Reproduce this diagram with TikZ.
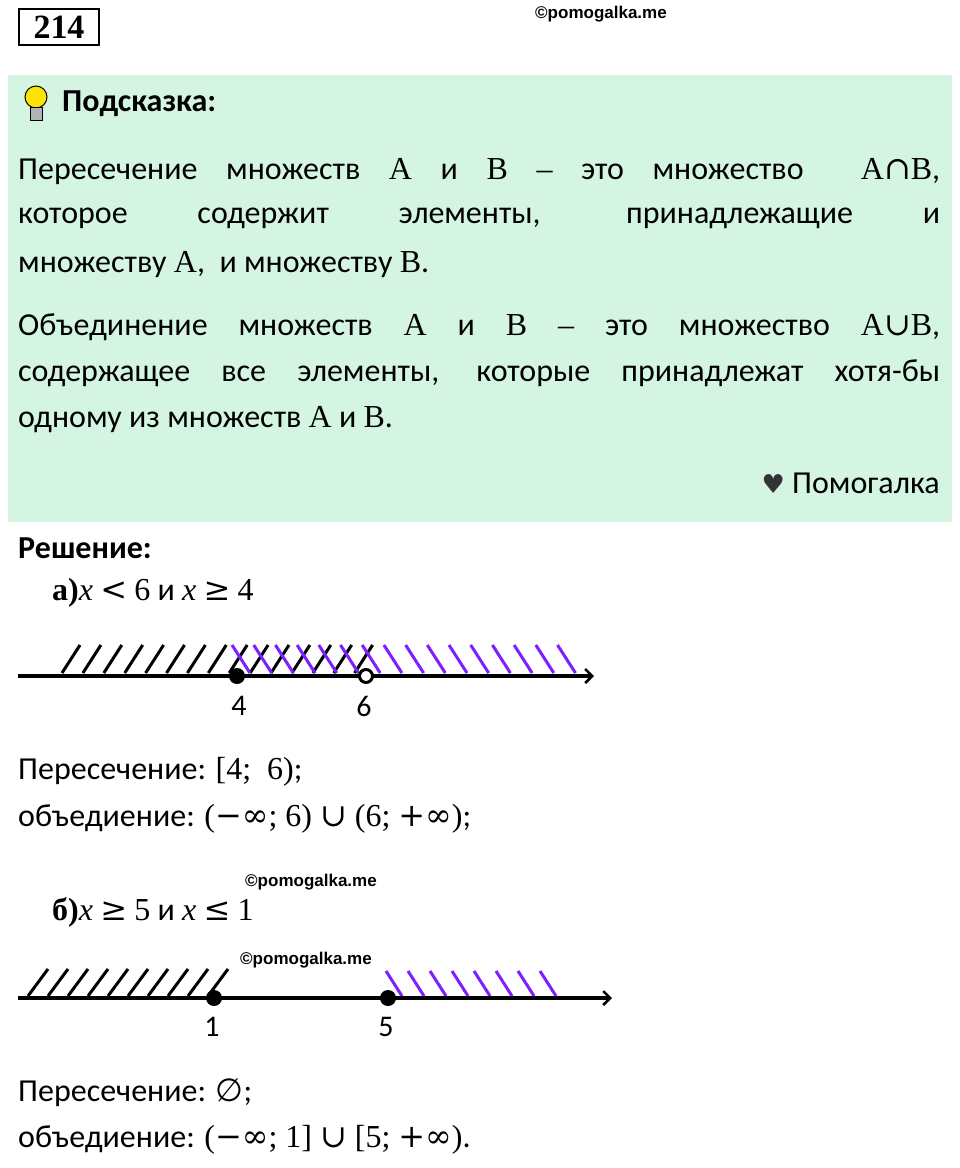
\documentclass[tikz,border=0pt]{standalone}
\usepackage{fontspec}
\usetikzlibrary{arrows.meta}
\setmainfont{Carlito}
\newfontfamily\serifm{Liberation Serif}
\newfontfamily\dsr{DejaVu Serif}
\newfontfamily\djv{DejaVu Sans}
\newfontfamily\wm{Liberation Sans}
\newcommand{\sm}[1]{{\serifm #1}}
\newcommand{\ds}[1]{{\dsr #1}}
\definecolor{mint}{HTML}{D5F5E3}
\definecolor{purp}{HTML}{7F1FFF}
\begin{document}
\begin{tikzpicture}[x=1pt,y=-1pt,
  txt/.style={anchor=west,inner sep=0,font=\fontsize{32}{38}\selectfont},
  btxt/.style={txt,font=\fontsize{32}{38}\selectfont\bfseries},
  wmark/.style={anchor=west,inner sep=0,font=\wm\bfseries\fontsize{17}{20}\selectfont},
  axis/.style={line width=3.5pt,-{Straight Barb[length=7pt,width=14pt,line width=2.5pt]}},
  hb/.style={line width=3pt},
  hp/.style={line width=3pt,purp},
  dot/.style={circle,fill=black,inner sep=0,minimum size=16pt},
  odot/.style={circle,draw=black,line width=3pt,fill=white,inner sep=0,minimum size=13pt},
  lbl/.style={inner sep=0,font=\fontsize{30}{36}\selectfont}]
\useasboundingbox (0,0) rectangle (960,1168);
\node[draw,line width=2.5pt,inner sep=3pt,minimum width=80pt,minimum height=36pt,font=\serifm\bfseries\fontsize{34}{40}\selectfont] (num) at (59,27) {214};
\node[wmark] (w1) at (535,14) {©pomogalka.me};
\fill[mint] (8,75) rectangle (952,522);
% bulb
\fill[yellow!85!orange] (36,97) circle (11);
\draw[line width=1pt] (36,97) circle (11);
\fill[gray!60] (30,107) rectangle (42,120);
\draw[line width=1pt] (30,107) rectangle (42,120);
\node[btxt] (hint) at (62,104) {Подсказка:};
\node[txt] (p1) at (18,172) {\makebox[922pt][s]{Пересечение множеств \sm{A} и \sm{B} \sm{–} это множество \ \sm{A\ds{∩}B},}};
\node[txt] (p2) at (18,218) {\makebox[922pt][s]{которое содержит элементы, принадлежащие и}};
\node[txt] (p3) at (18,265) {множеству \sm{A},\ \ и множеству \sm{B}.};
\node[txt] (p4) at (18,327) {\makebox[922pt][s]{Объединение множеств \sm{A} и \sm{B} \sm{–} это множество \sm{A\ds{∪}B},}};
\node[txt] (p5) at (18,373) {\makebox[922pt][s]{содержащее все элементы, которые принадлежат хотя-бы}};
\node[txt] (p6) at (18,420) {одному из множеств \sm{A} и \sm{B}.};
\node[txt,anchor=east] (pom) at (940,483) {{\djv\color{black!80}\fontsize{26}{30}\selectfont ♥}\ Помогалка};
\node[btxt] (sol) at (18,548) {Решение:};
\node[txt] (a) at (52,593) {{\serifm\bfseries а)}{\serifm\itshape x} \ds{<} \sm{6} и {\serifm\itshape x} \ds{≥} \sm{4}};
% line a
\foreach \i in {0,...,14} {\draw[hb] ({62+\i*20.9},673) -- ({80+\i*20.9},645);}
\foreach \i in {0,...,15} {\draw[hp] ({232+\i*21.7},645) -- ({250+\i*21.7},673);}
\coordinate (as) at (18,676); \coordinate (ae) at (594,676);
\draw[axis] (as) -- (ae);
\node[dot] (d4) at (237,676) {};
\node[odot] (d6) at (366,676) {};
\node[lbl] (l4) at (239,706) {4};
\node[lbl] (l6) at (364,706) {6};
\node[txt] (ra1) at (18,772) {Пересечение: \sm{[4;\ \ 6)};};
\node[txt] (ra2) at (18,819) {объедиение: \sm{(\ds{−∞}; 6) \ds{∪} (6; \ds{+∞})};};
\node[wmark] (w2) at (245,882) {©pomogalka.me};
\node[txt] (b) at (52,912) {{\serifm\bfseries б)}{\serifm\itshape x} \ds{≥} \sm{5} и {\serifm\itshape x} \ds{≤} \sm{1}};
\node[wmark] (w3) at (240,960) {©pomogalka.me};
% line b
\foreach \i in {0,...,9} {\draw[hb] ({28+\i*20},996) -- ({48+\i*20},969);}
\foreach \i in {0,...,7} {\draw[hp] ({386+\i*22},971) -- ({402+\i*22},996);}
\coordinate (bs) at (18,998); \coordinate (be) at (612,998);
\draw[axis] (bs) -- (be);
\node[dot] (d1) at (214,998) {};
\node[dot] (d5) at (388,998) {};
\node[lbl] (l1) at (212,1027) {1};
\node[lbl] (l5) at (386,1027) {5};
\node[txt] (rb1) at (18,1093) {Пересечение: {\djv ∅};};
\node[txt] (rb2) at (18,1140) {объедиение: \sm{(\ds{−∞}; 1] \ds{∪} [5; \ds{+∞})}.};
\end{tikzpicture}
\end{document}
